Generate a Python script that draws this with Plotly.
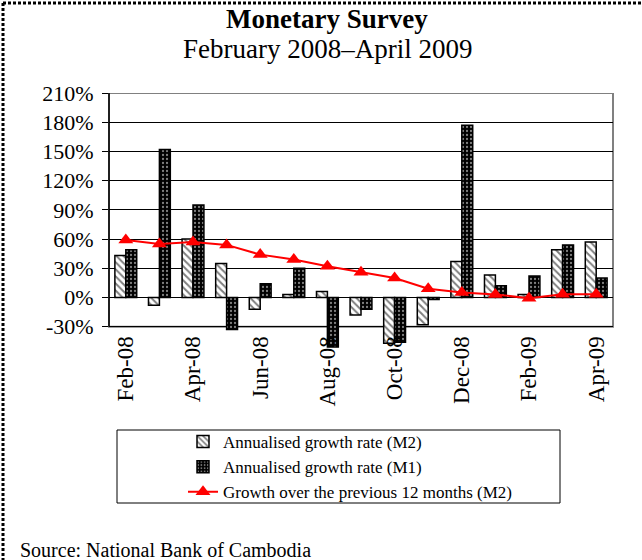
import plotly.graph_objects as go

# ---------------- data ----------------
months = ["Feb-08", "Mar-08", "Apr-08", "May-08", "Jun-08", "Jul-08", "Aug-08",
          "Sep-08", "Oct-08", "Nov-08", "Dec-08", "Jan-09", "Feb-09", "Mar-09", "Apr-09"]
m2_annualised = [43, -8, 60, 35, -12, 3, 6, -18, -47, -28, 37, 23, 3, 49, 57]
m1_annualised = [49, 152, 95, -33, 14, 30, -51, -12, -46, -2, 177, 12, 22, 54, 20]
m2_growth_12m = [59, 55, 57, 54, 44, 39, 32, 26, 20, 9, 5, 3, -0.7, 3.4, 3.4]
x_tick_labels = ["Feb-08", "Apr-08", "Jun-08", "Aug-08", "Oct-08", "Dec-08", "Feb-09", "Apr-09"]
y_ticks = [-30, 0, 30, 60, 90, 120, 150, 180, 210]

title_main = "Monetary Survey"
title_sub = "February 2008–April 2009"
source_text = "Source: National Bank of Cambodia"
names = ["Annualised growth rate (M2)", "Annualised growth rate (M1)",
         "Growth over the previous 12 months (M2)"]

# ---------------- layout geometry ----------------
W, H = 642, 560
ML, MR, MT, MB = 109, 29, 93, 209
PW, PH = W - ML - MR, H - MT - MB
Y_RANGE = [-55, 210]
FONT = "Liberation Serif, Times New Roman, serif"


def px_x(px):
    return (px - ML) / PW


def px_y(py):
    return (H - MB - py) / PH


fig = go.Figure()
fig.add_trace(go.Bar(
    x=months, y=m2_annualised, name=names[0],
    marker=dict(color="white", line=dict(color="black", width=1.5),
                pattern=dict(shape="\\", fgcolor="black", bgcolor="white",
                             size=5, solidity=0.4)),
))
fig.add_trace(go.Bar(
    x=months, y=m1_annualised, name=names[1],
    marker=dict(color="black", line=dict(color="black", width=1.5),
                pattern=dict(shape=".", fgcolor="white", bgcolor="black",
                             size=4, solidity=0.25)),
))
fig.add_trace(go.Scatter(
    x=months, y=m2_growth_12m, name=names[2], mode="lines+markers",
    line=dict(color="#FF0000", width=2),
    marker=dict(symbol="triangle-up", size=13, color="#FF0000"),
))

xpos = (-30 - Y_RANGE[0]) / (Y_RANGE[1] - Y_RANGE[0])

fig.update_layout(
    width=W, height=H,
    margin=dict(l=ML, r=MR, t=MT, b=MB, pad=0, autoexpand=False),
    paper_bgcolor="white", plot_bgcolor="white",
    font=dict(family=FONT, color="black"),
    barmode="group", bargap=0.35, bargroupgap=0,
    xaxis=dict(type="category", range=[-0.5, len(months) - 0.5],
               tickmode="array", tickvals=x_tick_labels,
               ticktext=x_tick_labels, tickangle=-90, anchor="free",
               position=xpos, showline=False, showgrid=False, ticks="",
               ticklabelstandoff=4,
               automargin=False, tickfont=dict(size=23, family=FONT)),
    yaxis=dict(range=Y_RANGE, tickmode="array", tickvals=y_ticks,
               ticktext=[f"{v}%" for v in y_ticks], showgrid=True,
               gridcolor="black", gridwidth=1, zeroline=True,
               zerolinecolor="black", zerolinewidth=1, showline=False,
               ticks="outside", ticklen=6, tickcolor="black", tickwidth=1,
               ticklabelstandoff=4,
               automargin=False, tickfont=dict(size=22, family=FONT)),
    legend=dict(x=px_x(183), y=px_y(424), xanchor="left", yanchor="top",
                bgcolor="rgba(0,0,0,0)", borderwidth=0,
                font=dict(size=17, family=FONT), traceorder="normal",
                tracegroupgap=0),
    showlegend=True,
)

# title lines
fig.add_annotation(text=f"<b>{title_main}</b>", xref="paper", yref="paper",
                   x=px_x(327), y=px_y(19), xanchor="center", yanchor="middle",
                   showarrow=False, font=dict(size=27, family=FONT))
fig.add_annotation(text=title_sub, xref="paper", yref="paper",
                   x=px_x(327), y=px_y(49), xanchor="center", yanchor="middle",
                   showarrow=False, font=dict(size=27, family=FONT))

# plot-area frame and left axis line
fig.add_shape(type="rect", xref="x domain", yref="y", x0=0, x1=1, y0=-30, y1=210,
              line=dict(color="#808080", width=2), layer="below")
fig.add_shape(type="line", xref="x domain", yref="y", x0=0, x1=0, y0=-30, y1=210,
              line=dict(color="black", width=1.5))
# legend box
fig.add_shape(type="rect", xref="paper", yref="paper",
              x0=px_x(117), x1=px_x(560), y0=px_y(503), y1=px_y(430),
              line=dict(color="black", width=1))
# outer dashed border (top and left)
fig.add_shape(type="line", xref="paper", yref="paper",
              x0=px_x(3), x1=px_x(660), y0=px_y(3), y1=px_y(3),
              line=dict(color="black", width=3, dash="3px,2px"))
fig.add_shape(type="line", xref="paper", yref="paper",
              x0=px_x(3), x1=px_x(3), y0=px_y(3), y1=px_y(600),
              line=dict(color="black", width=3, dash="3px,2px"))

fig.add_annotation(text=source_text, xref="paper", yref="paper",
                   x=px_x(18), y=px_y(550), xanchor="left", yanchor="middle",
                   showarrow=False, font=dict(size=20, family=FONT))

fig.write_html("out.html", config={"displayModeBar": False},
               post_script="document.body.style.margin='0';document.body.style.overflow='hidden';")
